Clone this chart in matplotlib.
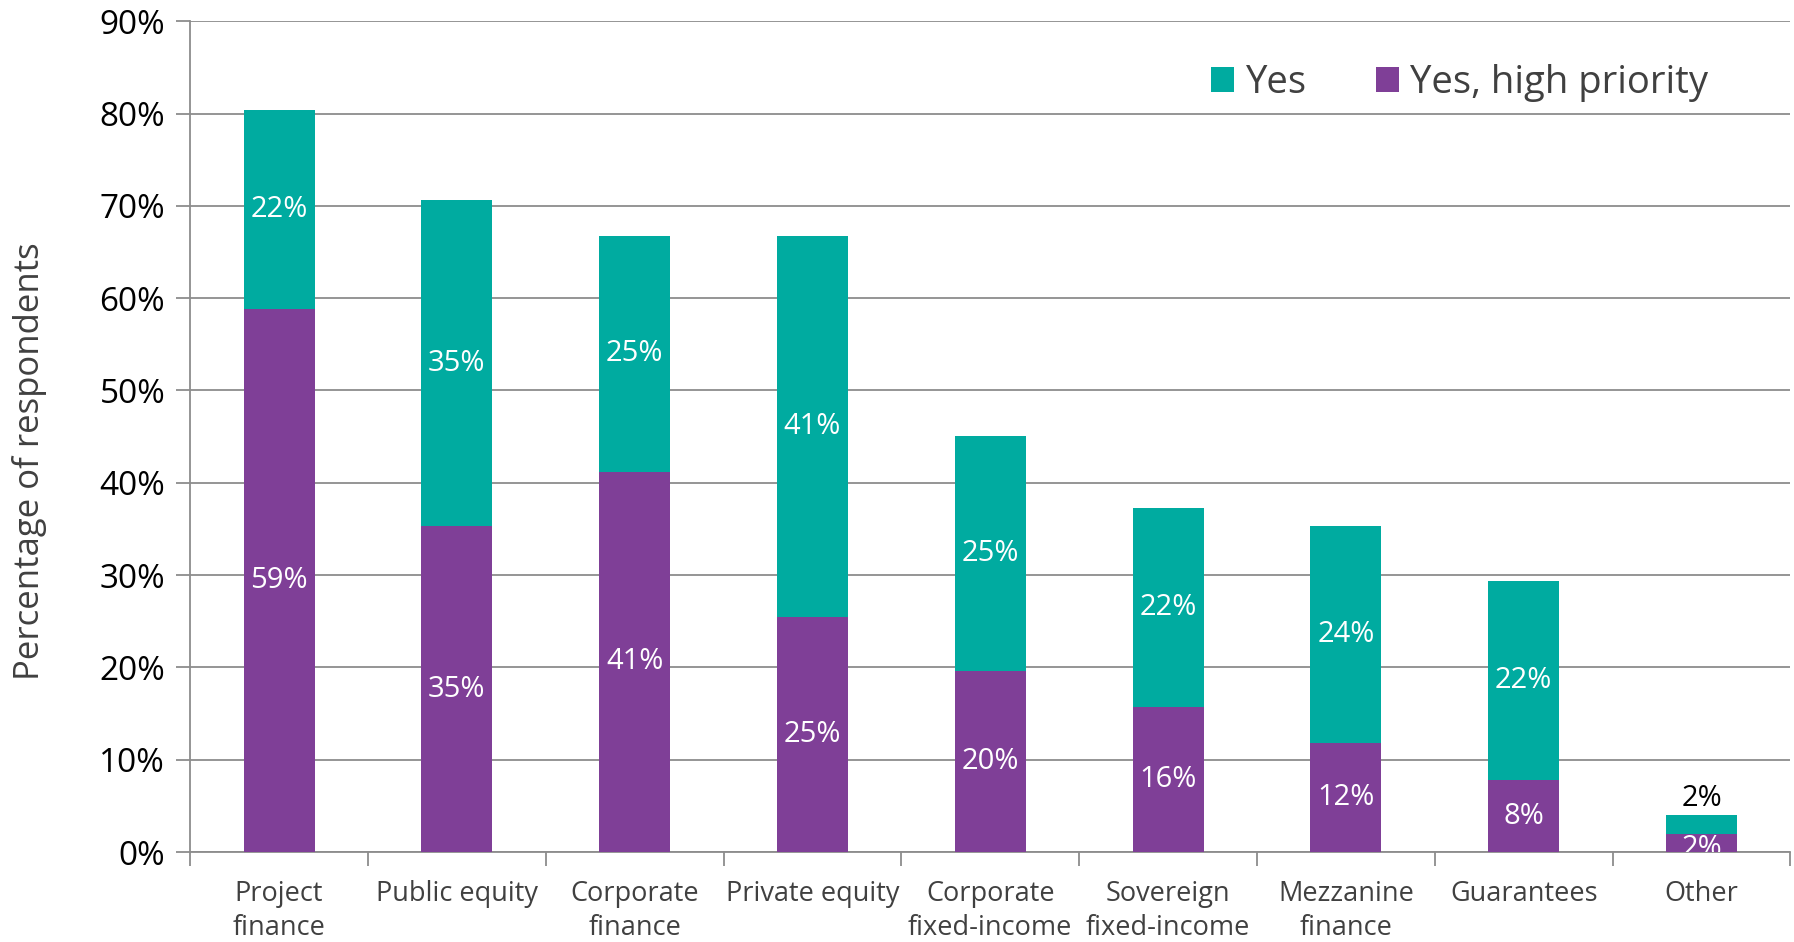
import numpy as np
import matplotlib.pyplot as plt

categories = ['Project\nfinance', 'Public equity', 'Corporate\nfinance', 'Private equity',
              'Corporate\nfixed-income', 'Sovereign\nfixed-income', 'Mezzanine\nfinance',
              'Guarantees', 'Other']
high_priority = [58.8, 35.3, 41.2, 25.5, 19.6, 15.7, 11.8, 7.8, 2.0]
yes = [21.6, 35.3, 25.5, 41.2, 25.5, 21.6, 23.5, 21.6, 2.0]
high_labels = ['59%', '35%', '41%', '25%', '20%', '16%', '12%', '8%', '2%']
yes_labels = ['22%', '35%', '25%', '41%', '25%', '22%', '24%', '22%', '2%']

teal = '#00aba0'
purple = '#7f3f97'
grey = '#8c8c8c'
text_grey = '#404040'

plt.rcParams['font.family'] = ['Open Sans', 'DejaVu Sans']

fig = plt.figure(figsize=(17.94, 9.42), dpi=100)
ax = fig.add_axes([0.106, 0.0955, 0.892, 0.882])

x = np.arange(len(categories))
w = 0.40
ax.bar(x, high_priority, w, color=purple, label='Yes, high priority', zorder=3)
ax.bar(x, yes, w, bottom=high_priority, color=teal, label='Yes', zorder=3)

for i in range(len(categories)):
    if i == len(categories) - 1:
        ax.text(x[i], high_priority[i] + yes[i] + 0.2, yes_labels[i], ha='center', va='bottom',
                fontsize=21, color='black', zorder=4)
        ax.text(x[i], high_priority[i] / 2 - 0.6, high_labels[i], ha='center', va='center',
                fontsize=21, color='white', zorder=4, clip_on=True)
    else:
        ax.text(x[i], high_priority[i] + yes[i] / 2, yes_labels[i], ha='center', va='center',
                fontsize=21, color='white', zorder=4)
        ax.text(x[i], high_priority[i] / 2, high_labels[i], ha='center', va='center',
                fontsize=21, color='white', zorder=4)

ax.set_xlim(-0.5, len(categories) - 0.5)
ax.set_ylim(0, 90)
ax.set_yticks(np.arange(0, 91, 10))
ax.set_yticklabels([f'{v}%' for v in range(0, 91, 10)], fontsize=24)
ax.yaxis.grid(True, color=grey, lw=1.3, zorder=0)
ax.tick_params(axis='y', length=10, width=1.3, color=grey, pad=8)

ax.set_xticks(x)
ax.set_xticklabels(categories, fontsize=19.5, color=text_grey, linespacing=1.3)
ax.tick_params(axis='x', length=0, pad=20)
ax.set_xticks(np.arange(-0.5, len(categories), 1), minor=True)
ax.tick_params(axis='x', which='minor', length=10, width=1.3, color=grey)

for s in ['top', 'right']:
    ax.spines[s].set_visible(False)
for s in ['left', 'bottom']:
    ax.spines[s].set_color(grey)
    ax.spines[s].set_linewidth(1.3)

ax.set_ylabel('Percentage of respondents', fontsize=25, color=text_grey, labelpad=38)
ax.yaxis.label.set_y(0.47)

h, l = ax.get_legend_handles_labels()
ax.legend(h[::-1], l[::-1], loc='upper right', bbox_to_anchor=(0.97, 0.99), ncol=2, frameon=False,
          fontsize=27.5, handlelength=0.6, handleheight=0.6, handletextpad=0.3, columnspacing=1.8,
          labelcolor=text_grey)

fig.savefig('out.png', dpi=100)
